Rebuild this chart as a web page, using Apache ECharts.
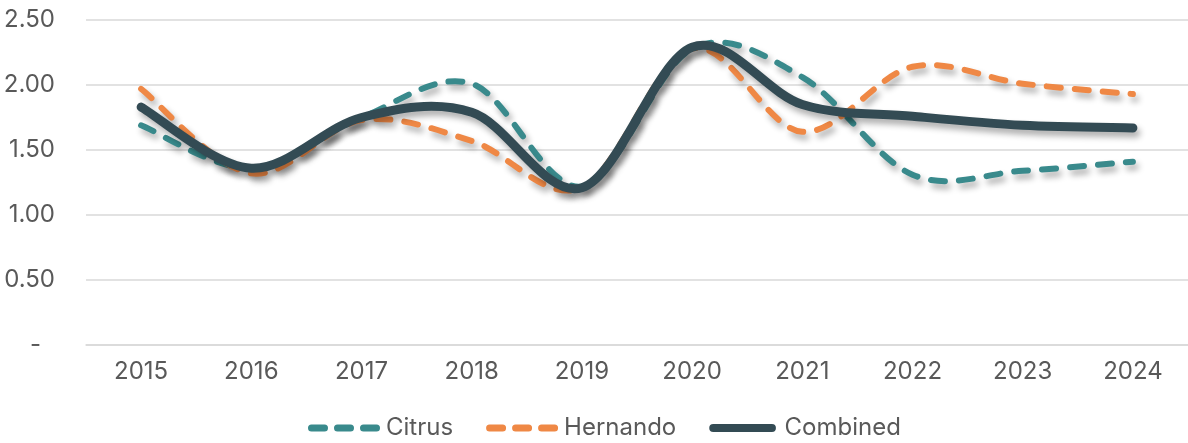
<!DOCTYPE html>
<html><head><meta charset="utf-8">
<script src="https://cdn.jsdelivr.net/npm/echarts@6/dist/echarts.min.js"></script>
<style>html,body{margin:0;padding:0;background:#fff}#c{width:1188px;height:443px}</style>
</head><body><div id="c"></div>
<script>
const years = ['2015','2016','2017','2018','2019','2020','2021','2022','2023','2024'];
const citrus = [1.69, 1.36, 1.75, 2.01, 1.22, 2.28, 2.06, 1.31, 1.34, 1.41];
const hernando = [1.97, 1.32, 1.73, 1.57, 1.21, 2.28, 1.64, 2.14, 2.01, 1.93];
const combined = [1.83, 1.36, 1.75, 1.79, 1.21, 2.29, 1.85, 1.76, 1.69, 1.67];
const yTicks = [0, 0.5, 1, 1.5, 2, 2.5];

const font = 'Inter, "Noto Sans", sans-serif';
const labelColor = '#595959';
const shadow = {shadowColor:'rgba(0,0,0,0.32)', shadowBlur:6, shadowOffsetX:3, shadowOffsetY:5};

// Excel-like smoothed line (Catmull-Rom bezier) through the library's coordinates
function smoothPath(pts){
  let d = 'M' + pts[0][0] + ',' + pts[0][1];
  for (let i = 0; i < pts.length - 1; i++){
    const p0 = pts[i-1] || pts[i], p1 = pts[i], p2 = pts[i+1], p3 = pts[i+2] || pts[i+1];
    const c1x = p1[0] + (p2[0]-p0[0])/6, c1y = p1[1] + (p2[1]-p0[1])/6;
    const c2x = p2[0] - (p3[0]-p1[0])/6, c2y = p2[1] - (p3[1]-p1[1])/6;
    d += ' C' + c1x + ',' + c1y + ' ' + c2x + ',' + c2y + ' ' + p2[0] + ',' + p2[1];
  }
  return d;
}
function lineSeries(name, values, color, width, dash, z){
  return {
    name, type:'custom', z, coordinateSystem:'cartesian2d',
    itemStyle:{color},
    data: values.map((v,i)=>[i, v]),
    encode:{x:0, y:1},
    renderItem:(params, api)=>{
      if (params.dataIndex !== 0) return null;
      const pts = values.map((v,i)=>api.coord([i, v]));
      return {
        type:'path', silent:true,
        shape:{pathData: smoothPath(pts)},
        style:Object.assign({fill:'none', stroke:color, lineWidth:width, lineDash:dash, lineCap:'round', lineJoin:'round'}, shadow)
      };
    }
  };
}
function pill(x, w, h){ const r=h/2; return `M${x+r},0 L${x+w-r},0 A${r},${r} 0 0 1 ${x+w-r},${h} L${x+r},${h} A${r},${r} 0 0 1 ${x+r},0 Z`; }
const dashIcon = 'path://' + pill(0,20,7) + ' ' + pill(26,20,7) + ' ' + pill(52,20,7);
const solidIcon = 'path://' + pill(0,75,9);

const chart = echarts.init(document.getElementById('c'), null, {renderer:'canvas'});
chart.setOption({
  animation:false,
  textStyle:{fontFamily:font},
  grid:{left:86, right:0, top:20, bottom:98, containLabel:false},
  legend:{
    top:416, left:308, padding:0, itemWidth:72, itemHeight:8, itemGap:33,
    textStyle:{fontSize:24, color:labelColor, fontFamily:font, padding:[0,0,0,1]},
    data:[
      {name:'Citrus', icon:dashIcon, itemStyle:{color:'#398a8c'}},
      {name:'Hernando', icon:dashIcon, itemStyle:{color:'#ef8845'}},
      {name:'Combined', icon:solidIcon, itemStyle:{color:'#334b54'}}
    ]
  },
  xAxis:{
    type:'category', data:years, boundaryGap:true,
    axisLine:{show:true, lineStyle:{color:'#d9d9d9', width:1.5}},
    axisTick:{show:false},
    axisLabel:{fontSize:24, color:labelColor, margin:15, fontFamily:font}
  },
  yAxis:{
    type:'value', min:yTicks[0], max:yTicks[yTicks.length-1], interval:0.5,
    axisLine:{show:false}, axisTick:{show:false},
    splitLine:{lineStyle:{color:'#d9d9d9', width:1.5}},
    axisLabel:{fontSize:24, color:labelColor, margin:31, fontFamily:font,
      formatter:v=> v===0 ? '{d|-}' : v.toFixed(2),
      rich:{d:{fontSize:24, color:labelColor, fontFamily:font, padding:[0,14,0,0]}}}
  },
  series:[
    lineSeries('Citrus', citrus, '#398a8c', 6, [14,14], 2),
    lineSeries('Hernando', hernando, '#ef8845', 6, [14,14], 3),
    lineSeries('Combined', combined, '#334b54', 9, null, 4)
  ]
});
</script></body></html>
